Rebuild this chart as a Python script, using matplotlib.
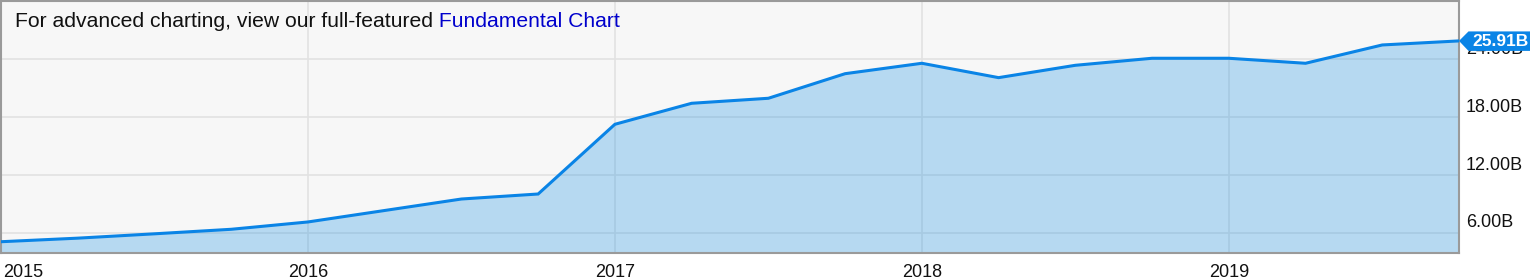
import matplotlib
matplotlib.use("Agg")
import matplotlib.pyplot as plt
from matplotlib.patches import Polygon
from matplotlib.transforms import ScaledTranslation

plt.rcParams['font.family'] = ['Liberation Sans', 'DejaVu Sans']

# Data (quarterly, decimal years) — values in billions
quarters = [2015.00, 2015.25, 2015.50, 2015.75,
            2016.00, 2016.25, 2016.50, 2016.75,
            2017.00, 2017.25, 2017.50, 2017.75,
            2018.00, 2018.25, 2018.50, 2018.75,
            2019.00, 2019.25, 2019.50, 2019.75]
values = [5.08, 5.45, 5.90, 6.37,
          7.13, 8.32, 9.51, 10.03,
          17.26, 19.44, 19.96, 22.51,
          23.59, 22.10, 23.38, 24.11,
          24.11, 23.59, 25.49, 25.91]
year_ticks = [2015, 2016, 2017, 2018, 2019]
year_labels = ["2015", "2016", "2017", "2018", "2019"]
y_ticks = [6, 12, 18, 24]
y_labels = ["6.00B", "12.00B", "18.00B", "24.00B"]
last_label = "25.91B"
header_text = "For advanced charting, view our full-featured"
link_text = " Fundamental Chart"

W, H = 1530, 279
fig = plt.figure(figsize=(W / 100, H / 100), dpi=100)
ax = fig.add_axes([1 / W, (H - 253) / H, 1458 / W, 252 / H])

line_color = "#0a84e6"
ax.set_facecolor("#f7f7f7")
ax.fill_between(quarters, values, 0, color="#0a8ae4", alpha=0.27, linewidth=0, zorder=2)
ax.plot(quarters, values, color=line_color, linewidth=2.2, zorder=3, solid_joinstyle='miter')

ax.set_xlim(2015.0, 2019.75)
ax.set_ylim(3.91, 30.05)

ax.set_axisbelow(True)
ax.set_xticks(year_ticks)
ax.set_xticklabels(year_labels)
ax.set_yticks(y_ticks)
ax.set_yticklabels(y_labels)
ax.grid(True, color="#e2e2e2", linewidth=1.2, zorder=0)

ax.yaxis.tick_right()
ax.tick_params(axis='y', length=0, pad=5, labelsize=13, labelcolor="#111111")
ax.tick_params(axis='x', length=0, pad=8, labelsize=13, labelcolor="#111111")
for lab in ax.get_yticklabels():
    lab.set_transform(lab.get_transform() + ScaledTranslation(0, 0.12, fig.dpi_scale_trans))
xl = ax.get_xticklabels()
xl[0].set_horizontalalignment('left')
xl[0].set_transform(xl[0].get_transform() + ScaledTranslation(0.02, 0, fig.dpi_scale_trans))

for s in ax.spines.values():
    s.set_color("#9a9a9a")
    s.set_linewidth(1.5)

# Header text
t1 = fig.text(15 / W, 1 - 26.7 / H, header_text, fontsize=15.2, color="#111111",
              ha='left', va='baseline')
fig.canvas.draw()
ax.annotate(link_text, xy=(1, 0), xycoords=t1, ha='left', va='bottom',
            fontsize=15.2, color="#0000cc", annotation_clip=False)

# Last value tag
trans = fig.dpi_scale_trans + ScaledTranslation(quarters[-1], values[-1], ax.transData)
verts = [(0, 0), (0.095, 0.095), (0.80, 0.095), (0.80, -0.10), (0.095, -0.10)]
tag = Polygon(verts, closed=True, transform=trans, facecolor=line_color,
              edgecolor='none', clip_on=False, zorder=10)
ax.add_patch(tag)
ax.annotate(last_label, xy=(quarters[-1], values[-1]), xytext=(13, -0.5),
            textcoords='offset pixels', ha='left', va='center', fontsize=12.5,
            fontweight='bold', color='white', annotation_clip=False, zorder=11)

fig.savefig("out.png", dpi=100)
